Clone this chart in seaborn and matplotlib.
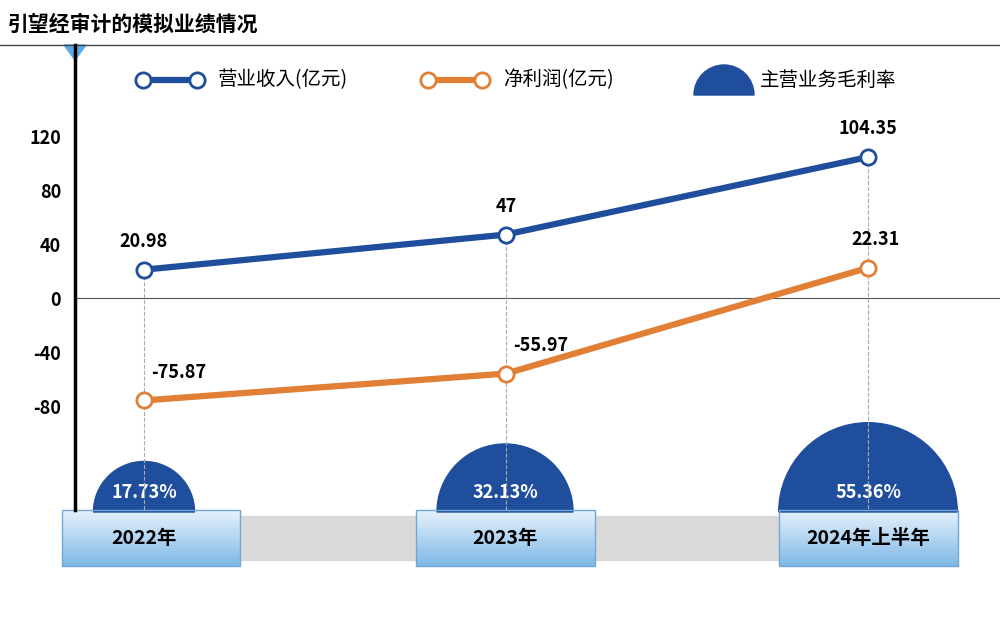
import numpy as np
import pandas as pd
import matplotlib.pyplot as plt
import seaborn as sns
from matplotlib.patches import Wedge, Rectangle, Polygon
from matplotlib.colors import LinearSegmentedColormap

plt.rcParams['font.family'] = ['Noto Sans CJK SC', 'Noto Sans CJK JP', 'Noto Sans CJK TC', 'DejaVu Sans']

# --- DATA ---
periods = ['2022年', '2023年', '2024年上半年']
revenue = [20.98, 47, 104.35]
net_profit = [-75.87, -55.97, 22.31]
gross_margin = [17.73, 32.13, 55.36]
yticks = [120, 80, 40, 0, -40, -80]

BLUE = '#1f4e9c'
ORANGE = '#e07f35'

fig = plt.figure(figsize=(10, 6.21), dpi=100)

# overlay axes in pixel units for decorations (y grows downward)
deco = fig.add_axes([0, 0, 1, 1])
deco.set_xlim(0, 1000)
deco.set_ylim(621, 0)
deco.axis('off')

# main data axes: x 75..1000 px, y 45..510 px
ax = fig.add_axes([75 / 1000, 1 - 510 / 621, 925 / 1000, 465 / 621])
ax.patch.set_alpha(0)
x = np.arange(len(periods))
df = pd.DataFrame({'x': np.concatenate([x, x]),
                   'v': revenue + net_profit,
                   's': ['营业收入(亿元)'] * 3 + ['净利润(亿元)'] * 3})
sns.lineplot(data=df, x='x', y='v', hue='s', palette=[BLUE, ORANGE], lw=4.5,
             marker='o', markersize=11, markerfacecolor='white', markeredgewidth=2,
             legend=False, ax=ax, zorder=5)
for line, c in zip(ax.get_lines(), [BLUE, ORANGE]):
    line.set_markeredgecolor(c)

ax.set_xlim(-0.19, 2.365)
ax.set_ylim(-157, 187.4)
ax.set_yticks(yticks)
ax.set_yticklabels([str(t) for t in yticks], fontsize=13, fontweight='bold')
ax.tick_params(axis='y', length=0, pad=10)
ax.set_xticks([])
ax.set_xlabel('')
ax.set_ylabel('')
for s in ['top', 'right', 'bottom']:
    ax.spines[s].set_visible(False)
ax.spines['left'].set_linewidth(2.5)
ax.axhline(0, color='#555555', lw=0.8, zorder=1)
for i in x:
    ax.plot([i, i], [revenue[i], -157], ls='--', color='#aaaaaa', lw=0.8, zorder=1)
    ax.text(i, revenue[i] + 14, f'{revenue[i]:g}', ha='center', va='bottom',
            fontsize=13, fontweight='bold')
    ax.text(i + 0.02, net_profit[i] + 14, f'{net_profit[i]:g}', ha='left' if i < 2 else 'center',
            va='bottom', fontsize=13, fontweight='bold')

# title
deco.text(8, 24, '引望经审计的模拟业绩情况', fontsize=15, fontweight='bold', va='center')
deco.plot([0, 1000], [45, 45], color='#444444', lw=1)
deco.add_patch(Polygon([[64, 45], [86, 45], [75, 60]], color='#5aa9e6'))

# legend
deco.plot([140, 200], [80, 80], color=BLUE, lw=4.5)
deco.plot([143, 197], [80, 80], 'o', ms=11, mfc='white', mec=BLUE, mew=2)
deco.text(218, 80, '营业收入(亿元)', fontsize=14, va='center')
deco.plot([425, 485], [80, 80], color=ORANGE, lw=4.5)
deco.plot([428, 482], [80, 80], 'o', ms=11, mfc='white', mec=ORANGE, mew=2)
deco.text(503, 80, '净利润(亿元)', fontsize=14, va='center')
deco.add_patch(Wedge((724, 95), 30, 180, 360, color=BLUE))
deco.text(760, 80, '主营业务毛利率', fontsize=14, va='center')

# gross margin semicircles (area proportional)
centers = [144, 505, 868]
for cx, g in zip(centers, gross_margin):
    r = 12 * np.sqrt(g)
    deco.add_patch(Wedge((cx, 512), r, 180, 360, color=BLUE, zorder=3))
    deco.text(cx, 493, f'{g}%', color='white', fontsize=13, fontweight='bold',
              ha='center', va='center', zorder=4)

# connectors and label boxes
boxes = [(62, 240), (416, 595), (779, 958)]
for (a0, a1), (b0, b1) in zip(boxes[:-1], boxes[1:]):
    deco.add_patch(Polygon([[a1, 516], [b0, 516], [b0, 560], [a1, 560]], color='#d9d9d9', zorder=1))
grad = np.linspace(0, 1, 50).reshape(-1, 1)
cmap = LinearSegmentedColormap.from_list('g', ['#e6f2fc', '#7fb8e6'])
for (b0, b1), lab, cx in zip(boxes, periods, centers):
    deco.imshow(grad, cmap=cmap, extent=[b0, b1, 566, 510], origin='upper',
                aspect='auto', zorder=2)
    deco.add_patch(Rectangle((b0, 510), b1 - b0, 56, fill=False, ec='#6fa7d6', lw=1, zorder=3))
    deco.text(cx, 538, lab, fontsize=14, fontweight='bold', ha='center', va='center', zorder=4)
deco.set_xlim(0, 1000)
deco.set_ylim(621, 0)

fig.savefig('out.png', dpi=100)
